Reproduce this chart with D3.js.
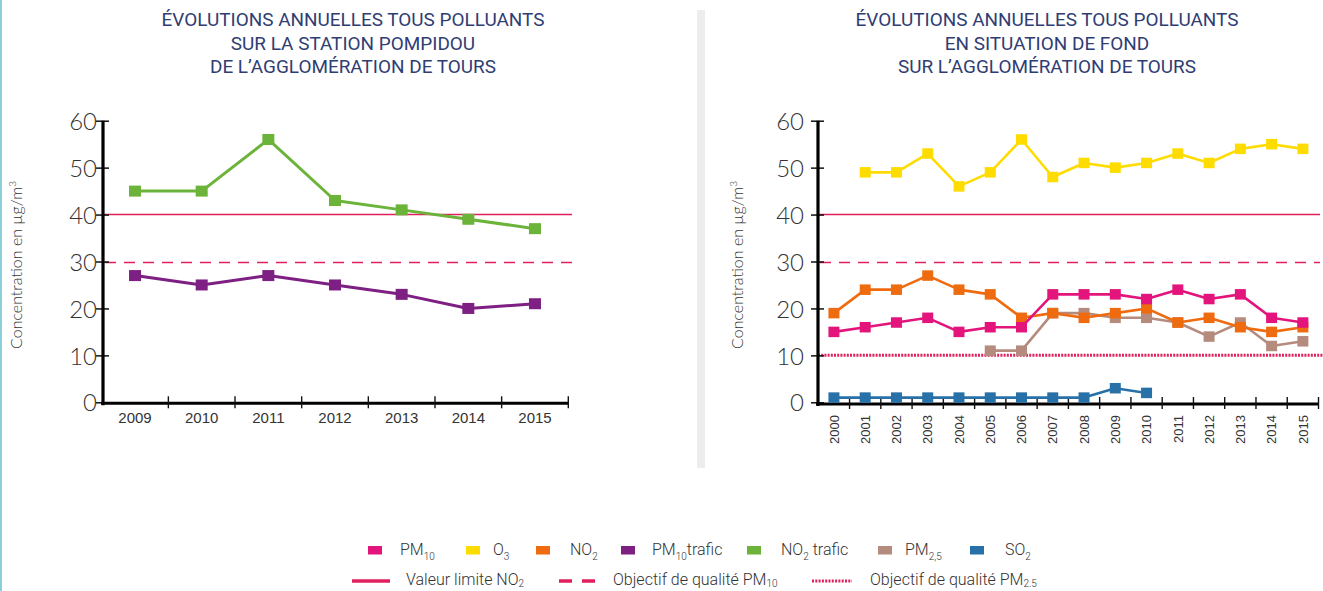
<!DOCTYPE html>
<html><head><meta charset="utf-8">
<script src="https://cdn.jsdelivr.net/npm/d3@7"></script>
<style>
html,body{margin:0;padding:0;background:#fff;}
svg{display:block;}
</style></head><body>
<svg id="chart" width="1323" height="591"></svg>
<script>
// Station Pompidou (traffic site), 2009–2015, annual means in µg/m³
const trafficYears = [2009, 2010, 2011, 2012, 2013, 2014, 2015];
const no2Traffic  = [45, 45, 56, 43, 41, 39, 37];
const pm10Traffic = [27, 25, 27, 25, 23, 20, 21];

// Background stations of the Tours agglomeration, 2000–2015
const backgroundYears = [2000, 2001, 2002, 2003, 2004, 2005, 2006, 2007, 2008, 2009, 2010, 2011, 2012, 2013, 2014, 2015];
const pm10 = [15, 16, 17, 18, 15, 16, 16, 23, 23, 23, 22, 24, 22, 23, 18, 17];
const o3   = [null, 49, 49, 53, 46, 49, 56, 48, 51, 50, 51, 53, 51, 54, 55, 54];
const no2  = [19, 24, 24, 27, 24, 23, 18, 19, 18, 19, 20, 17, 18, 16, 15, 16];
const pm25 = [null, null, null, null, null, 11, 11, 19, 19, 18, 18, 17, 14, 17, 12, 13];
const so2  = [1, 1, 1, 1, 1, 1, 1, 1, 1, 3, 2, null, null, null, null, null];

const yTicks = [0, 10, 20, 30, 40, 50, 60];

// Regulatory thresholds
const no2LimitValue = 40;
const pm10Objective = 30;
const pm25Objective = 10;

const leftTitle  = ["ÉVOLUTIONS ANNUELLES TOUS POLLUANTS", "SUR LA STATION POMPIDOU", "DE L’AGGLOMÉRATION DE TOURS"];
const rightTitle = ["ÉVOLUTIONS ANNUELLES TOUS POLLUANTS", "EN SITUATION DE FOND", "SUR L’AGGLOMÉRATION DE TOURS"];

const colors = {
  pm10: "#e3157d", o3: "#ffdc00", no2: "#ee6b10", pm10Traffic: "#7e1f83",
  no2Traffic: "#6cb33a", pm25: "#b58b7d", so2: "#2870a8", threshold: "#e0205c"
};

const svg = d3.select("#chart");
const textColor = "#333";
const lightFont = "Lato, 'Open Sans', sans-serif";

// thin frame stripe on the left border and the grey divider between panels
svg.append("rect").attr("x", 0).attr("y", 0).attr("width", 2).attr("height", 591).attr("fill", "#8ccfdc");
svg.append("rect").attr("x", 697).attr("y", 10).attr("width", 8).attr("height", 458).attr("fill", "#ededed");

// Three-line titles, horizontally condensed
function drawTitle(lines, cx) {
  const g = svg.append("g");
  const texts = lines.map((t, i) => g.append("text")
    .attr("x", cx).attr("y", 26 + i * 23.5)
    .attr("text-anchor", "middle")
    .attr("font-family", "Roboto, sans-serif")
    .attr("font-size", 18)
    .attr("fill", "#2f3d73")
    .text(t));
  const factor = 383 / texts[0].node().getComputedTextLength();
  texts.forEach(t => {
    const w = t.node().getComputedTextLength();
    t.attr("textLength", w * factor).attr("lengthAdjust", "spacingAndGlyphs");
  });
}
drawTitle(leftTitle, 353);
drawTitle(rightTitle, 1047);

const y = d3.scaleLinear().domain([0, 60]).range([402.3, 120.7]);
// snaps a thin reference line onto an even pixel row
const snap = v => 2 * Math.round((y(v) - 0.5) / 2) + 0.5;

function drawPanel(opts) {
  const g = svg.append("g");
  const x = d3.scaleBand().domain(opts.years).range(opts.xRange).paddingInner(0).paddingOuter(0);
  const x1 = opts.xRange[1];
  const axisY = opts.axisY;

  // threshold lines
  g.append("line").attr("x1", opts.axisX).attr("x2", opts.lineEnd)
    .attr("y1", snap(no2LimitValue)).attr("y2", snap(no2LimitValue))
    .attr("stroke", colors.threshold).attr("stroke-width", 1.3);
  g.append("line").attr("x1", opts.axisX + 2).attr("x2", opts.lineEnd)
    .attr("y1", snap(pm10Objective)).attr("y2", snap(pm10Objective))
    .attr("stroke", colors.threshold).attr("stroke-width", 1.3)
    .attr("stroke-dasharray", "11,8");
  if (opts.dotted) {
    g.append("line").attr("x1", opts.axisX).attr("x2", opts.dottedEnd)
      .attr("y1", y(pm25Objective)).attr("y2", y(pm25Objective))
      .attr("stroke", colors.threshold).attr("stroke-width", 3)
      .attr("stroke-dasharray", "2,1.2");
  }

  // y axis: ticks crossing the axis line
  const yAxis = d3.axisLeft(y).tickValues(yTicks).tickSize(0).tickPadding(0);
  const ya = g.append("g").attr("transform", `translate(${opts.axisX},0)`).call(yAxis);
  ya.select(".domain").remove();
  ya.selectAll(".tick line").attr("x1", -7).attr("x2", 6).attr("stroke", "#111").attr("stroke-width", 1.5);
  ya.selectAll(".tick text")
    .attr("x", -opts.yLabelGap)
    .attr("dy", "0.36em")
    .attr("font-family", lightFont).attr("font-weight", 300)
    .attr("font-size", 24).attr("fill", textColor);
  g.append("line").attr("x1", opts.axisX).attr("x2", opts.axisX)
    .attr("y1", y(60)).attr("y2", axisY + 2)
    .attr("stroke", "#000").attr("stroke-width", 3.2);

  // x axis: ticks on the band edges
  const xAxis = d3.axisBottom(x).tickSize(0).tickPadding(0);
  const xa = g.append("g").attr("transform", `translate(0,${axisY})`).call(xAxis);
  xa.select(".domain").remove();
  xa.selectAll(".tick line").remove();
  g.append("line").attr("x1", opts.axisX - 2).attr("x2", x1)
    .attr("y1", axisY).attr("y2", axisY)
    .attr("stroke", "#000").attr("stroke-width", 3);
  g.selectAll(".edge").data(opts.years).enter().append("line")
    .attr("class", "edge")
    .attr("x1", d => x(d) + x.bandwidth()).attr("x2", d => x(d) + x.bandwidth())
    .attr("y1", axisY - 7).attr("y2", axisY + 5)
    .attr("stroke", "#111").attr("stroke-width", 1.4);
  const xt = xa.selectAll(".tick text")
    .attr("font-family", "'Liberation Sans', Arial, sans-serif")
    .attr("fill", textColor);
  if (opts.rotate) {
    xt.attr("font-size", 13)
      .attr("transform", "rotate(-90)")
      .attr("text-anchor", "end")
      .attr("x", -(415 - axisY)).attr("y", 0).attr("dy", "0.36em");
  } else {
    xt.attr("font-size", 15).attr("y", 19.5).attr("dy", 0);
  }

  // y axis title
  const yt = g.append("text")
    .attr("transform", `translate(${opts.titleX},265) rotate(-90)`)
    .attr("text-anchor", "middle")
    .attr("font-family", lightFont).attr("font-weight", 300)
    .attr("font-size", 16).attr("fill", textColor);
  yt.append("tspan").text("Concentration en µg/m");
  yt.append("tspan").attr("font-size", 10).attr("dy", -6).text("3");

  // series
  const line = d3.line()
    .defined(d => d.v != null)
    .x(d => x(d.year) + x.bandwidth() / 2)
    .y(d => y(d.v));
  opts.series.forEach(s => {
    const pts = opts.years.map((yr, i) => ({year: yr, v: s.values[i]}));
    g.append("path").datum(pts)
      .attr("d", line).attr("fill", "none")
      .attr("stroke", s.color).attr("stroke-width", opts.lineWidth)
      .attr("stroke-linejoin", "round");
    g.selectAll(null).data(pts.filter(d => d.v != null)).enter().append("rect")
      .attr("x", d => x(d.year) + x.bandwidth() / 2 - opts.markW / 2)
      .attr("y", d => y(d.v) - opts.markH / 2)
      .attr("width", opts.markW).attr("height", opts.markH)
      .attr("fill", s.color);
  });
}

drawPanel({
  years: trafficYears, xRange: [101.7, 568.3], axisX: 103, axisY: 403.3,
  lineEnd: 572, dotted: false, yLabelGap: 6, titleX: 22, rotate: false,
  lineWidth: 3, markW: 12, markH: 11,
  series: [
    {values: no2Traffic, color: colors.no2Traffic},
    {values: pm10Traffic, color: colors.pm10Traffic}
  ]
});

drawPanel({
  years: backgroundYears, xRange: [818.3, 1318.5], axisX: 818, axisY: 404,
  lineEnd: 1320, dotted: true, dottedEnd: 1323, yLabelGap: 14, titleX: 743, rotate: true,
  lineWidth: 2.6, markW: 11, markH: 10.5,
  series: [
    {values: so2, color: colors.so2},
    {values: pm25, color: colors.pm25},
    {values: no2, color: colors.no2},
    {values: o3, color: colors.o3},
    {values: pm10, color: colors.pm10}
  ]
});

// Legend
const legendSeries = [
  {parts: [["PM"], ["10", true]], color: colors.pm10, sx: 368, tx: 400},
  {parts: [["O"], ["3", true]], color: colors.o3, sx: 466, tx: 493},
  {parts: [["NO"], ["2", true]], color: colors.no2, sx: 536, tx: 570},
  {parts: [["PM"], ["10", true], ["trafic"]], color: colors.pm10Traffic, sx: 621, tx: 652},
  {parts: [["NO"], ["2", true], [" trafic"]], color: colors.no2Traffic, sx: 747, tx: 781},
  {parts: [["PM"], ["2,5", true]], color: colors.pm25, sx: 878, tx: 905},
  {parts: [["SO"], ["2", true]], color: colors.so2, sx: 970, tx: 1005}
];
const legendLines = [
  {parts: [["Valeur limite NO"], ["2", true]], dash: null, lx: [352, 390], tx: 406},
  {parts: [["Objectif de qualité PM"], ["10", true]], dash: "13,10", lx: [559, 595], tx: 613},
  {parts: [["Objectif de qualité PM"], ["2.5", true]], dash: "2,1.3", lx: [812, 852], tx: 870}
];

const lg = svg.append("g");
function legendText(parts, x, yb, subShift) {
  const t = lg.append("text").attr("x", x).attr("y", yb)
    .attr("font-family", "Roboto, sans-serif").attr("font-weight", 300)
    .attr("font-size", 16).attr("fill", textColor);
  let shifted = false;
  parts.forEach(([s, sub]) => {
    const ts = t.append("tspan").text(s);
    if (sub && !shifted) { ts.attr("font-size", 10).attr("dy", subShift); shifted = true; }
    else if (!sub && shifted) { ts.attr("dy", -subShift); shifted = false; }
  });
}
legendSeries.forEach(d => {
  lg.append("rect").attr("x", d.sx).attr("y", 546).attr("width", 14).attr("height", 8.5).attr("fill", d.color);
  legendText(d.parts, d.tx, 555, 5);
});
legendLines.forEach(d => {
  lg.append("line").attr("x1", d.lx[0]).attr("x2", d.lx[1]).attr("y1", 581).attr("y2", 581)
    .attr("stroke", colors.threshold).attr("stroke-width", d.dash === "2,1.3" ? 3 : 3.5)
    .attr("stroke-dasharray", d.dash);
  legendText(d.parts, d.tx, 584.5, 2.5);
});
</script>
</body></html>
